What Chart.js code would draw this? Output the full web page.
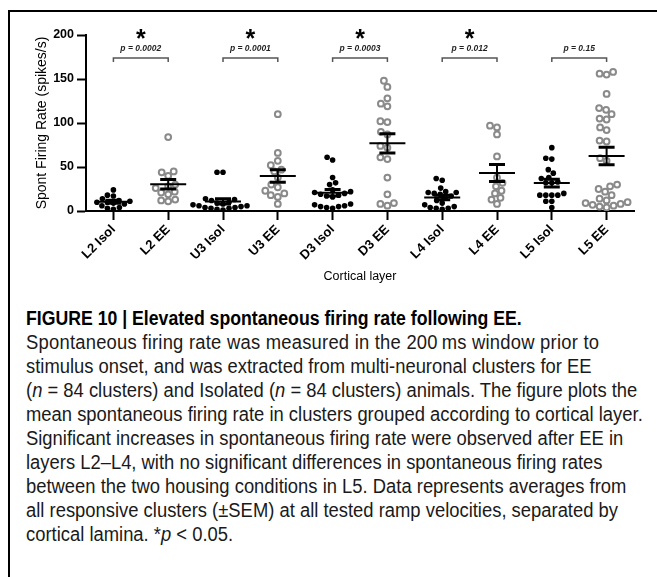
<!DOCTYPE html>
<html>
<head>
<meta charset="utf-8">
<script src="https://cdn.jsdelivr.net/npm/chart.js@4.4.1/dist/chart.umd.min.js"></script>
<style>
  html, body { margin: 0; padding: 0; background: #fff; }
  body { width: 657px; height: 577px; position: relative; overflow: hidden; }
  #frame {
    position: absolute; left: 8px; top: 10px; right: 0; bottom: 0;
    border-top: 2px solid #000; border-left: 2px solid #000;
  }
  #plot { position: absolute; left: 0; top: 0; }
  #caption {
    position: absolute; left: 16px; top: 294px;
    font-family: "Liberation Sans", Arial, sans-serif;
    font-size: 20px; line-height: 24px; color: #1a1a1a;
    transform: scaleX(0.92); transform-origin: 0 0;
  }
  #caption div { white-space: nowrap; transform-origin: 0 0; }
  #caption .title { font-weight: bold; color: #000; transform: scaleX(0.96); }
  #caption .loose { letter-spacing: 0.25px; }
</style>
</head>
<body>
<div id="frame">
  <canvas id="plot" width="647" height="280"></canvas>
  <div id="caption">
    <div class="title">FIGURE 10 | Elevated spontaneous firing rate following EE.</div>
    <div class="loose">Spontaneous firing rate was measured in the 200&#8201;ms window prior to</div>
    <div>stimulus onset, and was extracted from multi-neuronal clusters for EE</div>
    <div>(<i>n</i> = 84 clusters) and Isolated (<i>n</i> = 84 clusters) animals. The figure plots the</div>
    <div>mean spontaneous firing rate in clusters grouped according to cortical layer.</div>
    <div>Significant increases in spontaneous firing rate were observed after EE in</div>
    <div>layers L2–L4, with no significant differences in spontaneous firing rates</div>
    <div>between the two housing conditions in L5. Data represents averages from</div>
    <div>all responsive clusters (±SEM) at all tested ramp velocities, separated by</div>
    <div>cortical lamina. *<i>p</i> &lt; 0.05.</div>
  </div>
</div>
<script>
// spontaneous firing rate per cluster (spikes/s), one array per group
const categories = ["L2 Isol", "L2 EE", "U3 Isol", "U3 EE", "D3 Isol", "D3 EE", "L4 Isol", "L4 EE", "L5 Isol", "L5 EE"];

const l2Isol = [24, 18, 17, 14, 12, 11, 10, 10, 9, 8, 6, 4, 3, 2];
const l2EE = [84, 45, 44, 40, 30, 28, 26, 22, 21, 19, 13, 12, 11];
const u3Isol = [44, 44, 14, 13, 12, 10, 9, 8, 7, 6, 6, 5, 4, 4, 3, 3, 2, 1];
const u3EE = [110, 66, 57, 52, 47, 45, 38, 30, 27, 23, 20, 18, 16, 8];
const d3Isol = [61, 58, 38, 32, 30, 24, 22, 21, 20, 19, 18, 17, 16, 8, 7, 6, 5, 5, 4, 3];
const d3EE = [148, 141, 128, 122, 119, 102, 101, 90, 87, 74, 72, 61, 59, 38, 19, 9, 8, 6];
const l4Isol = [37, 35, 26, 22, 21, 21, 20, 19, 17, 15, 12, 9, 7, 5, 4, 3, 3, 2];
const l4EE = [97, 95, 87, 62, 38, 32, 28, 23, 20, 15, 13, 8];
const l5Isol = [72, 60, 59, 47, 43, 38, 37, 33, 32, 32, 20, 18, 18, 18, 18, 11, 11, 4];
const l5EE = [158, 156, 155, 133, 117, 115, 110, 105, 104, 95, 92, 80, 79, 60, 57,
  30, 28, 25, 22, 18, 14, 12, 10, 9, 8, 7, 6, 5, 4];

const groups = [l2Isol, l2EE, u3Isol, u3EE, d3Isol, d3EE, l4Isol, l4EE, l5Isol, l5EE];

// Isol vs EE comparisons, one per layer
const pValues = ["p = 0.0002", "p = 0.0001", "p = 0.0003", "p = 0.012", "p = 0.15"];
const significant = [true, true, true, true, false];

const yTicks = [0, 50, 100, 150, 200];

const FONT = "'Liberation Sans', Arial, sans-serif";
const EE_GREY = "#8a8a8a";

function mean(a) {
  return a.reduce((s, v) => s + v, 0) / a.length;
}

function sem(a) {
  const m = mean(a);
  const sd = Math.sqrt(a.reduce((s, v) => s + (v - m) * (v - m), 0) / (a.length - 1));
  return sd / Math.sqrt(a.length);
}

// points start on the centre line, shifted sideways only when they would overlap
function swarmOffsets(values, yScale, diam) {
  const placed = [];
  const offs = new Array(values.length).fill(0);
  const order = values.map((v, i) => i).sort((a, b) => values[a] - values[b]);
  order.forEach(i => {
    const py = yScale.getPixelForValue(values[i]);
    for (let k = 0; k < 200; k++) {
      const dx = (k % 2 === 0 ? 1 : -1) * Math.ceil(k / 2) * 0.5;
      const ok = placed.every(p => (p.dx - dx) ** 2 + (p.py - py) ** 2 >= diam * diam);
      if (ok) {
        offs[i] = dx;
        placed.push({ dx, py });
        break;
      }
    }
  });
  return offs;
}

function buildPoints(isEE) {
  const pts = [];
  groups.forEach((vals, g) => {
    if ((g % 2 === 1) !== isEE) return;
    vals.forEach(v => pts.push({ x: g, y: v, g }));
  });
  return pts;
}

// ================= MEAN ± SEM ==================

const errorBars = {
  id: "errorBars",
  afterDatasetsDraw(chart) {
    const { ctx, scales: { x, y } } = chart;
    ctx.save();
    ctx.strokeStyle = "#000";
    groups.forEach((vals, g) => {
      const cx = x.getPixelForValue(g);
      const m = mean(vals);
      const e = sem(vals);
      const yM = y.getPixelForValue(m);
      const yHi = y.getPixelForValue(m + e);
      const yLo = y.getPixelForValue(m - e);
      ctx.lineWidth = 2;
      ctx.beginPath();
      ctx.moveTo(cx - 18, yM); ctx.lineTo(cx + 18, yM);
      ctx.moveTo(cx, yHi); ctx.lineTo(cx, yLo);
      ctx.stroke();
      ctx.lineWidth = 3;
      ctx.beginPath();
      ctx.moveTo(cx - 8, yHi); ctx.lineTo(cx + 8, yHi);
      ctx.moveTo(cx - 8, yLo); ctx.lineTo(cx + 8, yLo);
      ctx.stroke();
    });
    ctx.restore();
  }
};

// ================= SIGNIFICANCE BRACKETS ==================

const brackets = {
  id: "brackets",
  afterDraw(chart) {
    const { ctx, scales: { x, y } } = chart;
    const yb = y.getPixelForValue(174);
    ctx.save();
    pValues.forEach((p, k) => {
      const x1 = x.getPixelForValue(2 * k);
      const x2 = x.getPixelForValue(2 * k + 1);
      ctx.strokeStyle = "#555";
      ctx.lineWidth = 1.5;
      ctx.beginPath();
      ctx.moveTo(x1, yb + 4); ctx.lineTo(x1, yb); ctx.lineTo(x2, yb); ctx.lineTo(x2, yb + 4);
      ctx.stroke();
      ctx.fillStyle = "#222";
      ctx.textAlign = "center";
      ctx.textBaseline = "alphabetic";
      ctx.font = "italic bold 8.5px " + FONT;
      ctx.fillText(p, (x1 + x2) / 2, yb - 7);
      if (significant[k]) {
        ctx.fillStyle = "#000";
        ctx.font = "bold 25px " + FONT;
        ctx.fillText("*", (x1 + x2) / 2, yb - 11);
      }
    });
    ctx.restore();
  }
};

const ctx = document.getElementById("plot").getContext("2d");

const chart = new Chart(ctx, {
  type: "scatter",
  data: {
    datasets: [
      {
        label: "Isol",
        data: buildPoints(false),
        pointRadius: 2.8,
        pointBackgroundColor: "#000",
        pointBorderColor: "#000",
        pointBorderWidth: 0
      },
      {
        label: "EE",
        data: buildPoints(true),
        pointRadius: 2.9,
        pointBackgroundColor: "rgba(255,255,255,0)",
        pointBorderColor: EE_GREY,
        pointBorderWidth: 2
      }
    ]
  },
  options: {
    responsive: false,
    animation: false,
    devicePixelRatio: 1,
    layout: { padding: { left: 20, top: 23, right: 23, bottom: 5 } },
    plugins: {
      legend: { display: false },
      tooltip: { enabled: false }
    },
    scales: {
      x: {
        type: "linear",
        min: -0.5,
        max: 9.5,
        afterBuildTicks: s => { s.ticks = categories.map((c, i) => ({ value: i })); },
        afterFit: s => { s.height = 76; },
        ticks: {
          callback: v => categories[v],
          minRotation: 45,
          maxRotation: 45,
          padding: 2,
          color: "#000",
          font: { family: FONT, size: 13, weight: "bold" }
        },
        grid: { drawOnChartArea: false, drawTicks: true, tickLength: 9, tickColor: "#000", tickWidth: 2 },
        border: { display: true, color: "#000", width: 2 },
        title: {
          display: true,
          text: "Cortical layer",
          color: "#000",
          padding: { top: 4, bottom: 3 },
          font: { family: FONT, size: 12.5 }
        }
      },
      y: {
        min: 0,
        max: 200,
        afterBuildTicks: s => { s.ticks = yTicks.map(v => ({ value: v })); },
        afterFit: s => { s.width = 56; },
        ticks: {
          padding: 3,
          color: "#000",
          font: { family: FONT, size: 12.5, weight: "bold" }
        },
        grid: { drawOnChartArea: false, drawTicks: true, tickLength: 9, tickColor: "#000", tickWidth: 2 },
        border: { display: true, color: "#000", width: 2 },
        title: {
          display: true,
          text: "Spont Firing Rate (spikes/s)",
          color: "#000",
          padding: { top: 4, bottom: 4 },
          font: { family: FONT, size: 14 }
        }
      }
    }
  },
  plugins: [errorBars, brackets]
});

// spread the dots sideways now that the scales know their pixel sizes
const xs = chart.scales.x;
const ys = chart.scales.y;
const pxPerCat = xs.getPixelForValue(1) - xs.getPixelForValue(0);
chart.data.datasets.forEach((ds, d) => {
  groups.forEach((vals, g) => {
    const pts = ds.data.filter(p => p.g === g);
    if (!pts.length) return;
    const offs = swarmOffsets(pts.map(p => p.y), ys, d === 0 ? 6 : 7);
    pts.forEach((p, i) => { p.x = g + offs[i] / pxPerCat; });
  });
});
chart.update("none");
</script>
</body>
</html>
